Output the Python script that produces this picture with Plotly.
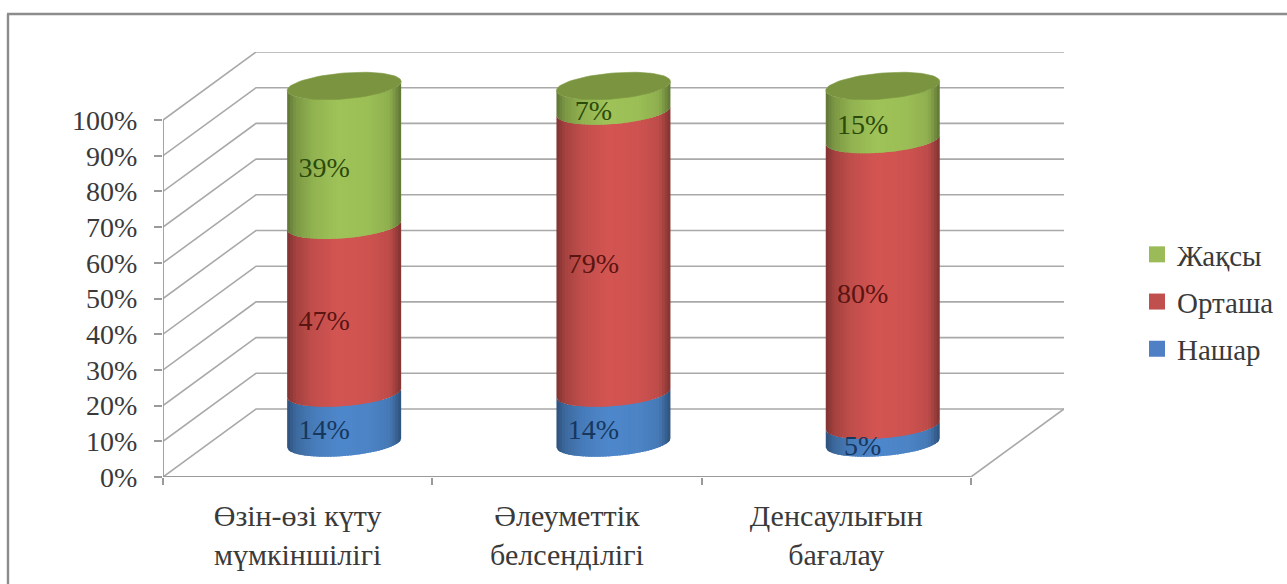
import plotly.graph_objects as go
import numpy as np

# ---- data ----
categories = ["Өзін-өзі күту<br>мүмкіншілігі", "Әлеуметтік<br>белсенділігі", "Денсаулығын<br>бағалау"]
series_names = ["Нашар", "Орташа", "Жақсы"]
nashar = [14, 14, 5]
ortasha = [47, 79, 80]
zhaksy = [39, 7, 15]
y_ticks = [0, 10, 20, 30, 40, 50, 60, 70, 80, 90, 100]
y_tick_labels = ["0%", "10%", "20%", "30%", "40%", "50%", "60%", "70%", "80%", "90%", "100%"]

# ---- layout geometry ----
W, H = 1287, 584
L, R, T, B = 163, 1064, 52, 477
PX_X = 269.3          # pixels per category
PX_Y = 3.57           # pixels per percent
DEPTH_X = 93 / PX_X   # oblique depth of the floor, in axis units
DEPTH_Y = 68 / PX_Y
XMAX = (R - L) / PX_X
YMAX = (B - T) / PX_Y
HALF_W = 57 / PX_X
ELL_B = 13 / PX_Y
ELL_TILT = 4.5 / PX_Y
FONT = "Liberation Serif"
TXT = "#3a3a3a"
GRID = "#a9a9a9"
AXIS = "#9a9a9a"

values = [nashar, ortasha, zhaksy]
base_col = {"Нашар": (76, 132, 198), "Орташа": (206, 83, 80), "Жақсы": (155, 190, 86)}
label_col = {"Нашар": "#17375e", "Орташа": "#5a1412", "Жақсы": "#2c4a0c"}
swatch = {"Нашар": "#4f7fc4", "Орташа": "#c0504d", "Жақсы": "#9bbb59"}
top_col = (122, 148, 64)

shade_u = [-1, -0.85, -0.55, -0.1, 0.45, 0.8, 1]
shade_f = [0.62, 0.80, 0.94, 1.03, 1.0, 0.92, 0.62]
N = 40
edges = np.linspace(-1, 1, N + 1)
du = edges[1] - edges[0]


def arc(u):
    return -ELL_B * np.sqrt(np.clip(1 - u ** 2, 0, 1)) + ELL_TILT * u


def tint(c, f):
    return "rgb(%d,%d,%d)" % tuple(min(255, int(v * f)) for v in c)


fig = go.Figure()

# wall and floor lines
gx, gy = [], []
for v in y_ticks:
    gx += [0, DEPTH_X, XMAX, None]
    gy += [v, v + DEPTH_Y, v + DEPTH_Y, None]
gx += [3, XMAX, None]
gy += [0, DEPTH_Y, None]
fig.add_trace(go.Scatter(x=gx, y=gy, mode="lines", line=dict(color=GRID, width=1.6),
                         hoverinfo="skip", showlegend=False, cliponaxis=False))
# front axes
fig.add_trace(go.Scatter(x=[0, 0, None, 0, 3], y=[0, 100, None, 0, 0], mode="lines",
                         line=dict(color=AXIS, width=1.8), hoverinfo="skip",
                         showlegend=False, cliponaxis=False))

centers = [i + 0.5 + DEPTH_X / 2 for i in range(3)]
y0_mid = DEPTH_Y / 2

# real stacked bars (body core; the shaded cylinder skin is laid over them)
stack = np.zeros(3)
for name, vals in zip(series_names, values):
    fig.add_trace(go.Bar(x=centers, y=vals, base=stack + y0_mid, width=HALF_W * 1.3, name=name,
                         marker=dict(color=swatch[name], line=dict(width=0)), showlegend=False,
                         hovertemplate="%{y}%<extra>" + name + "</extra>"))
    stack = stack + np.array(vals)

# shaded cylinder skin: strips painted left to right, each overlapping the next
stack = np.zeros(3)
for name, vals in zip(series_names, values):
    for k in range(N):
        u0 = edges[k]
        um = u0 + du / 2
        u1 = min(1.0, edges[k + 1] + 0.7 * du)
        us = np.linspace(u0, u1, 4)
        px, py = [], []
        for c, s, v in zip(centers, stack, vals):
            lo = s + y0_mid
            hi = s + v + y0_mid
            px += list(c + HALF_W * us) + list(c + HALF_W * us[::-1]) + [None]
            py += list(lo + arc(us)) + list(hi + arc(us[::-1])) + [None]
        col = tint(base_col[name], float(np.interp(um, shade_u, shade_f)))
        fig.add_trace(go.Scatter(x=px, y=py, mode="lines", fill="toself", fillcolor=col,
                                 line=dict(color=col, width=0), hoverinfo="skip",
                                 showlegend=False, cliponaxis=False))
    stack = stack + np.array(vals)

# top caps
t = np.linspace(0, 2 * np.pi, 90)
for c, s in zip(centers, stack):
    fig.add_trace(go.Scatter(
        x=c + HALF_W * np.cos(t),
        y=s + y0_mid + ELL_B * np.sin(t) + ELL_TILT * np.cos(t),
        mode="lines", fill="toself", fillcolor=tint(top_col, 1.0),
        line=dict(color=tint(top_col, 1.05), width=0.6), hoverinfo="skip", showlegend=False, cliponaxis=False))

# value labels
LBL_DX = -20 / PX_X
LBL_DY = -14 / PX_Y
stack = np.zeros(3)
for name, vals in zip(series_names, values):
    mid = stack + np.array(vals) / 2 + y0_mid + LBL_DY
    fig.add_trace(go.Scatter(x=[c + LBL_DX for c in centers], y=mid, mode="text",
                             text=["%d%%" % v for v in vals], textposition="middle center",
                             textfont=dict(family=FONT, size=28, color=label_col[name]),
                             hoverinfo="skip", showlegend=False, cliponaxis=False))
    stack = stack + np.array(vals)

# legend entries (reverse order, top to bottom)
for name in series_names[::-1]:
    fig.add_trace(go.Scatter(x=[None], y=[None], mode="markers", name=name, legendgroup=name,
                             marker=dict(symbol="square", size=16, color=swatch[name])))

fpx = lambda x: (x - L) / (R - L)
fpy = lambda y: (B - y) / (B - T)
FRAME = dict(color="#8c8c8c", width=2.4)

fig.update_layout(
    width=W, height=H,
    margin=dict(l=L, r=W - R, t=T, b=H - B, autoexpand=False),
    paper_bgcolor="white", plot_bgcolor="white",
    barmode="overlay",
    font=dict(family=FONT, color=TXT),
    xaxis=dict(range=[0, XMAX], showgrid=False, zeroline=False, showline=False,
               tickmode="array", tickvals=[0.5, 1.5, 2.5], ticktext=categories,
               ticks="", tickfont=dict(family=FONT, size=30, color=TXT),
               ticklabelstandoff=18,
               minor=dict(tickmode="array", tickvals=[0, 1, 2, 3], ticks="outside", ticklen=7,
                          tickwidth=1.5, tickcolor=AXIS, showgrid=False)),
    yaxis=dict(range=[0, YMAX], showgrid=False, zeroline=False, showline=False,
               tickmode="array", tickvals=y_ticks, ticktext=y_tick_labels,
               ticks="outside", ticklen=8, tickwidth=1.5, tickcolor=AXIS,
               ticklabelstandoff=11,
               tickfont=dict(family=FONT, size=28, color=TXT)),
    legend=dict(x=fpx(1137), xanchor="left", y=fpy(229), yanchor="top",
                font=dict(family=FONT, size=29, color=TXT), tracegroupgap=6.5,
                bgcolor="rgba(0,0,0,0)", itemclick=False, itemdoubleclick=False),
    shapes=[
        dict(type="line", xref="paper", yref="paper", layer="below",
             x0=fpx(7), x1=fpx(W), y0=fpy(14), y1=fpy(14), line=FRAME),
        dict(type="line", xref="paper", yref="paper", layer="below",
             x0=fpx(8), x1=fpx(8), y0=fpy(14), y1=fpy(H), line=FRAME),
    ],
)

fig.write_html("out.html", config={"displayModeBar": False},
               post_script="document.body.style.margin='0';document.body.style.overflow='hidden';")
